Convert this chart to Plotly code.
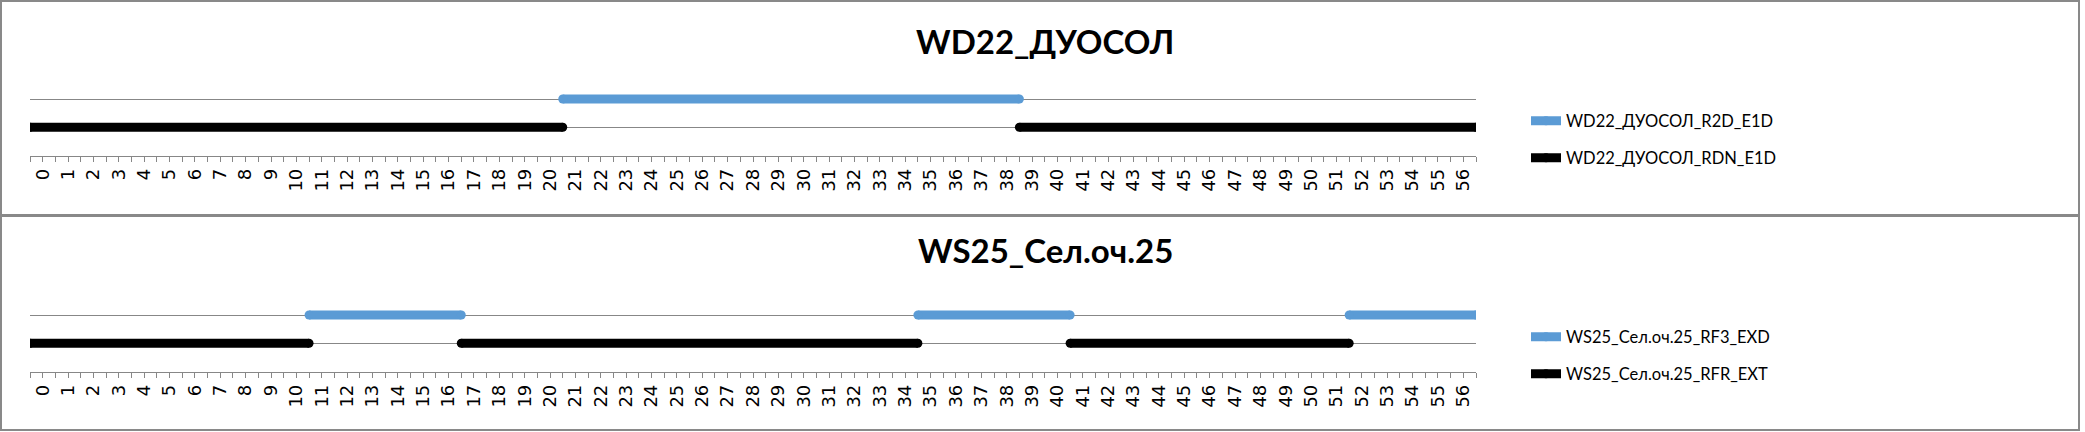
import plotly.graph_objects as go

W, H = 2085, 432

# ---------------- data ----------------
categories = list(range(0, 57))
tick_labels = [str(c) for c in categories]

panel_titles = ["WD22_ДУОСОЛ", "WS25_Сел.оч.25"]

# top chart: WD22_ДУОСОЛ
wd22_r2d_name = "WD22_ДУОСОЛ_R2D_E1D"
wd22_r2d_start = [20.5]
wd22_r2d_end = [38.5]
wd22_r2d_level = 2

wd22_rdn_name = "WD22_ДУОСОЛ_RDN_E1D"
wd22_rdn_start = [-0.5, 38.5]
wd22_rdn_end = [20.5, 56.5]
wd22_rdn_level = 1

# bottom chart: WS25_Сел.оч.25
ws25_rf3_name = "WS25_Сел.оч.25_RF3_EXD"
ws25_rf3_start = [10.5, 34.5, 51.5]
ws25_rf3_end = [16.5, 40.5, 56.5]
ws25_rf3_level = 2

ws25_rfr_name = "WS25_Сел.оч.25_RFR_EXT"
ws25_rfr_start = [-0.5, 16.5, 40.5]
ws25_rfr_end = [10.5, 34.5, 51.5]
ws25_rfr_level = 1

BLUE = "#5B9BD5"
BLACK = "#000000"
GRID = "#878787"
BORDER = "#898989"
LW = 9

TEXT_FONT = "Lato, Liberation Sans, sans-serif"
TICK_FONT = "DejaVu Sans, Verdana, sans-serif"


def seg_xy(starts, ends, level):
    xs, ys = [], []
    for s, e in zip(starts, ends):
        xs += [s, e, None]
        ys += [level, level, None]
    return xs, ys


def px_x(p):
    return p / W


def px_y(p):
    return 1 - p / H


fig = go.Figure()

series = [
    (wd22_r2d_name, wd22_r2d_start, wd22_r2d_end, wd22_r2d_level, BLUE, "x", "y", "legend"),
    (wd22_rdn_name, wd22_rdn_start, wd22_rdn_end, wd22_rdn_level, BLACK, "x", "y", "legend2"),
    (ws25_rf3_name, ws25_rf3_start, ws25_rf3_end, ws25_rf3_level, BLUE, "x2", "y2", "legend3"),
    (ws25_rfr_name, ws25_rfr_start, ws25_rfr_end, ws25_rfr_level, BLACK, "x2", "y2", "legend4"),
]

for name, st, en, lvl, col, xa, ya, lg in series:
    xs, ys = seg_xy(st, en, lvl)
    fig.add_trace(go.Scatter(
        x=xs, y=ys, name=name, mode="lines+markers",
        line=dict(color=col, width=LW),
        marker=dict(color=col, size=LW, line=dict(width=0)),
        xaxis=xa, yaxis=ya, legend=lg, connectgaps=False,
        hoverinfo="skip",
    ))

# panel geometry (pixels)
plot_left, plot_right = 30, 1476
panel_offset = 216
axis_y0 = 155.5          # pixel of value 0 in top panel
unit = 28.25             # pixels per y unit
y_max = 2.5

def y_domain(offset):
    bottom = axis_y0 + offset
    top = bottom - y_max * unit
    return [px_y(bottom), px_y(top)]

xaxis_common = dict(
    range=[-0.5, 56.5],
    tickmode="array",
    tickvals=categories,
    ticktext=tick_labels,
    tickangle=-90,
    ticks="outside",
    ticklen=5,
    tickwidth=1,
    tickcolor=GRID,
    showline=True,
    linecolor=GRID,
    linewidth=1,
    showgrid=False,
    zeroline=False,
    tickfont=dict(family=TICK_FONT, size=18, color="#000000"),
    minor=dict(tick0=0.5, dtick=1, ticks="outside", ticklen=5, tickwidth=1, tickcolor=GRID),
    fixedrange=True,
)
yaxis_common = dict(
    range=[0, y_max],
    tickmode="array",
    tickvals=[1, 2],
    showticklabels=False,
    showgrid=True,
    gridcolor=GRID,
    gridwidth=1,
    zeroline=False,
    showline=False,
    ticks="",
    fixedrange=True,
)

fig.update_layout(
    width=W, height=H,
    margin=dict(l=0, r=0, t=0, b=0),
    paper_bgcolor="white",
    plot_bgcolor="white",
    xaxis=dict(domain=[px_x(plot_left), px_x(plot_right)], anchor="y", **xaxis_common),
    yaxis=dict(domain=y_domain(0), anchor="x", **yaxis_common),
    xaxis2=dict(domain=[px_x(plot_left), px_x(plot_right)], anchor="y2", **xaxis_common),
    yaxis2=dict(domain=y_domain(panel_offset), anchor="x2", **yaxis_common),
    showlegend=True,
)

legend_common = dict(
    xanchor="left", yanchor="middle", bgcolor="rgba(0,0,0,0)",
    font=dict(family=TEXT_FONT, size=16.5, color="#000000"),
    itemwidth=30, borderwidth=0,
)
legend_rows = [121, 158, 121 + panel_offset, 158 + panel_offset]
for i, key in enumerate(["legend", "legend2", "legend3", "legend4"]):
    fig.update_layout({key: dict(x=px_x(1526), y=px_y(legend_rows[i]), **legend_common)})

# titles
title_y = [41, 250]
for t, ty in zip(panel_titles, title_y):
    fig.add_annotation(
        text=f"<b>{t}</b>", x=px_x(1045), y=px_y(ty), xref="paper", yref="paper",
        showarrow=False, xanchor="center", yanchor="middle",
        font=dict(family=TEXT_FONT, size=33, color="#000000"),
    )

# chart borders
for top, bot in [(1, 215), (216, 430)]:
    fig.add_shape(type="rect", xref="paper", yref="paper",
                  x0=px_x(1), x1=px_x(2079), y0=px_y(bot), y1=px_y(top),
                  line=dict(color=BORDER, width=2), fillcolor="rgba(0,0,0,0)", layer="below")

fig.write_html(
    "out.html",
    config={"displayModeBar": False},
    post_script="document.body.style.margin='0';document.body.style.padding='0';",
)
